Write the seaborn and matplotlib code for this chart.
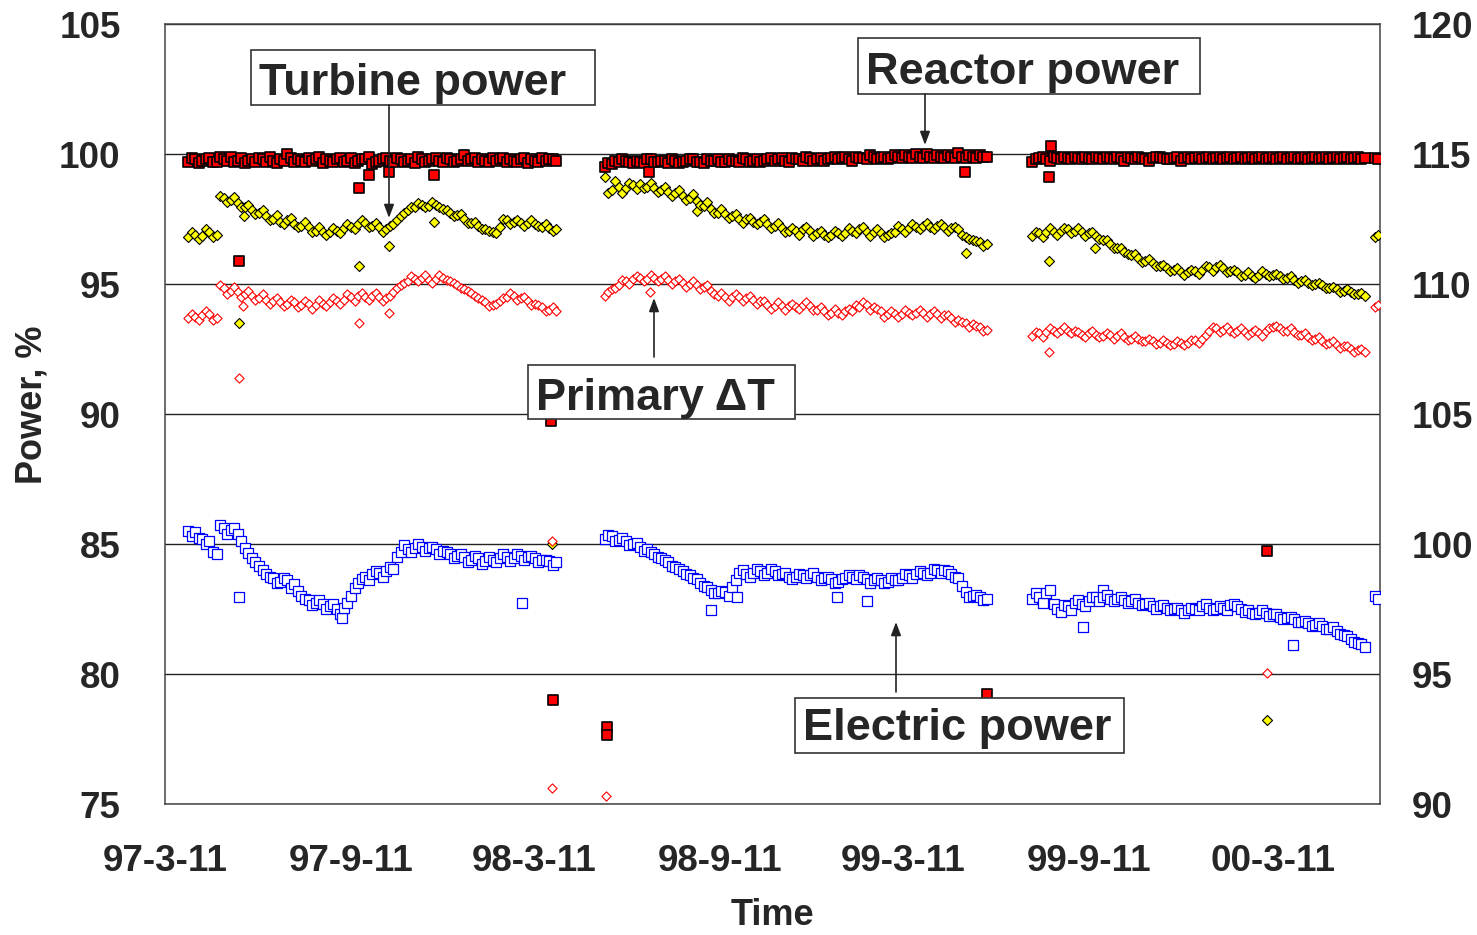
import pandas as pd
import matplotlib.pyplot as plt
from matplotlib.patches import Rectangle
import seaborn as sns

# ---- data ----
# each series is split into operating periods; readings every 7 days,
# plus a second set of readings taken half way between them (the band scatter)
seg_starts = ["1997-04-03", "1998-05-20", "1999-07-17", "2000-06-20"]
seg_steps = [7, 7, 7, 3]

reactor_1 = [99.7, 99.8, 99.75, 99.85, 99.7, 99.8, 99.9, 99.75, 99.65, 99.8,
             99.85, 99.7, 99.75, 99.8, 100.0, 99.7, 99.75, 99.85, 99.8, 99.65,
             99.75, 99.8, 99.7, 99.85, 99.75, 99.8, 99.6, 99.75, 99.85, 99.7,
             99.8, 99.75, 99.65, 99.8, 99.75, 99.85, 99.7, 99.8, 99.75, 99.95,
             99.8, 99.7, 99.75, 99.85, 99.8, 99.7, 99.75, 99.8, 99.65, 99.75,
             99.85, 99.8, 99.75]
reactor_2 = [99.5, 99.6, 99.7, 99.75, 99.65, 99.7, 99.8, 99.7, 99.75, 99.65,
             99.75, 99.7, 99.8, 99.7, 99.65, 99.75, 99.8, 99.7, 99.75, 99.7,
             99.8, 99.75, 99.7, 99.8, 99.75, 99.85, 99.7, 99.8, 99.75, 99.85,
             99.8, 99.75, 99.85, 99.8, 99.9, 99.75, 99.85, 99.8, 99.9, 99.85,
             99.8, 99.95, 99.85, 99.9, 100.0, 99.85, 99.9, 99.95, 99.85, 99.9,
             100.05, 99.85, 99.9, 99.95, 99.9]
reactor_3 = [99.7, 99.85, 99.8, 99.9, 99.8, 99.85, 99.9, 99.8, 99.85, 99.9,
             99.8, 99.85, 99.9, 99.75, 99.85, 99.9, 99.8, 99.85, 99.9, 99.8,
             99.85, 99.75, 99.9, 99.85, 99.8, 99.9, 99.85, 99.8, 99.9, 99.85,
             99.8, 99.9, 99.85, 99.8, 99.9, 99.85, 99.8, 99.9, 99.85, 99.8,
             99.9, 99.85, 99.8, 99.9, 99.85, 99.8, 99.9, 99.85]
reactor_4 = [99.85, 99.8]
reactor_1m = [99.85, 99.65, 99.8, 99.7, 99.9, 99.75, 99.7, 99.85, 99.75, 99.7,
              99.8, 99.9, 99.65, 99.75, 99.85, 99.8, 99.7, 99.75, 99.9, 99.8,
              99.7, 99.85, 99.75, 99.65, 99.8, 99.9, 99.7, 99.8, 99.75, 99.85,
              99.7, 99.8, 99.9, 99.7, 99.8, 99.75, 99.85, 99.7, 99.8, 99.75,
              99.85, 99.8, 99.7, 99.75, 99.85, 99.8, 99.7, 99.85, 99.8, 99.7,
              99.75, 99.8]
reactor_2m = [99.65, 99.75, 99.8, 99.7, 99.75, 99.65, 99.8, 99.7, 99.75, 99.8,
              99.65, 99.75, 99.8, 99.7, 99.8, 99.75, 99.7, 99.8, 99.75, 99.85,
              99.7, 99.8, 99.75, 99.85, 99.8, 99.75, 99.85, 99.8, 99.9, 99.75,
              99.85, 99.8, 99.9, 99.85, 99.8, 99.9, 99.85, 99.95, 99.8, 99.9,
              99.85, 99.9, 99.95, 99.85, 99.9, 100.0, 99.85, 99.9, 99.95, 99.85,
              99.9, 99.95, 99.85, 99.9]
reactor_3m = [99.8, 99.9, 99.75, 99.85, 99.9, 99.8, 99.85, 99.9, 99.8, 99.85,
              99.9, 99.8, 99.85, 99.9, 99.8, 99.85, 99.75, 99.9, 99.85, 99.8,
              99.9, 99.85, 99.8, 99.9, 99.85, 99.8, 99.9, 99.85, 99.8, 99.9,
              99.85, 99.8, 99.9, 99.85, 99.8, 99.9, 99.85, 99.8, 99.9, 99.85,
              99.8, 99.9, 99.85, 99.8, 99.9, 99.85, 99.8]

turbine_1 = [96.8, 96.9, 96.85, 97.0, 96.9, 98.3, 98.25, 98.1, 97.95, 97.85,
             97.75, 97.6, 97.5, 97.4, 97.45, 97.3, 97.25, 97.2, 97.05, 97.0,
             97.0, 97.05, 97.15, 97.2, 97.3, 97.35, 97.25, 97.2, 97.1, 97.3,
             97.6, 97.85, 97.95, 98.05, 98.0, 98.05, 97.9, 97.75, 97.65, 97.5,
             97.35, 97.25, 97.1, 97.0, 97.2, 97.45, 97.4, 97.35, 97.35, 97.3,
             97.2, 97.15, 97.1]
turbine_2 = [99.1, 98.6, 98.75, 98.7, 98.8, 98.85, 98.75, 98.7, 98.6, 98.55,
             98.5, 98.4, 98.3, 98.2, 98.0, 97.9, 97.75, 97.7, 97.6, 97.5,
             97.5, 97.4, 97.4, 97.3, 97.25, 97.15, 97.05, 97.05, 97.1, 97.05,
             96.95, 96.9, 96.9, 96.95, 96.95, 97.05, 97.1, 97.0, 97.0, 96.95,
             96.9, 97.0, 97.1, 97.15, 97.2, 97.25, 97.2, 97.25, 97.2, 97.15,
             97.1, 96.8, 96.7, 96.6, 96.55]
turbine_3 = [96.85, 96.95, 97.0, 97.0, 97.05, 97.1, 97.05, 97.0, 96.95, 96.85,
             96.7, 96.55, 96.4, 96.25, 96.1, 96.0, 95.9, 95.8, 95.7, 95.6,
             95.55, 95.45, 95.45, 95.5, 95.55, 95.65, 95.65, 95.6, 95.5, 95.45,
             95.35, 95.3, 95.35, 95.4, 95.35, 95.3, 95.25, 95.15, 95.1, 95.05,
             95.0, 94.95, 94.85, 94.8, 94.75, 94.7, 94.6, 94.55]
turbine_4 = [96.8, 96.9]
turbine_1m = [97.0, 96.75, 97.1, 96.8, 98.4, 98.15, 98.35, 97.95, 98.05, 97.7,
              97.85, 97.45, 97.65, 97.3, 97.55, 97.2, 97.4, 97.0, 97.2, 96.9,
              97.15, 96.95, 97.3, 97.1, 97.45, 97.2, 97.35, 97.0, 97.25, 97.45,
              97.75, 97.95, 98.1, 97.95, 98.15, 97.95, 97.85, 97.6, 97.7, 97.35,
              97.4, 97.1, 97.05, 96.95, 97.5, 97.3, 97.45, 97.25, 97.45, 97.25,
              97.3, 97.05]
turbine_2m = [98.5, 98.95, 98.5, 98.9, 98.65, 98.7, 98.9, 98.55, 98.75, 98.4,
              98.6, 98.25, 98.45, 98.05, 98.15, 97.75, 97.9, 97.55, 97.7, 97.35,
              97.55, 97.3, 97.5, 97.15, 97.35, 97.0, 97.15, 96.9, 97.2, 96.85,
              97.05, 96.8, 97.05, 96.85, 97.15, 96.95, 97.2, 96.85, 97.1, 96.8,
              96.95, 97.25, 97.0, 97.3, 97.1, 97.35, 97.1, 97.3, 97.05, 97.2,
              96.9, 96.75, 96.65, 96.45]
turbine_3m = [97.0, 96.8, 97.15, 96.9, 97.15, 96.95, 97.15, 96.85, 97.0, 96.75,
              96.7, 96.4, 96.4, 96.15, 96.15, 95.85, 95.95, 95.7, 95.75, 95.5,
              95.6, 95.35, 95.55, 95.4, 95.7, 95.5, 95.75, 95.45, 95.55, 95.3,
              95.45, 95.25, 95.5, 95.3, 95.4, 95.2, 95.3, 95.05, 95.15, 94.95,
              95.05, 94.85, 94.9, 94.7, 94.8, 94.6, 94.65]

delta_t_1 = [93.7, 93.75, 93.8, 93.85, 93.7, 94.85, 94.75, 94.7, 94.6, 94.55,
             94.45, 94.4, 94.35, 94.3, 94.25, 94.3, 94.2, 94.25, 94.2, 94.25,
             94.3, 94.35, 94.4, 94.5, 94.55, 94.5, 94.55, 94.5, 94.45, 94.7,
             94.95, 95.1, 95.2, 95.25, 95.15, 95.2, 95.25, 95.1, 94.95, 94.8,
             94.65, 94.45, 94.3, 94.2, 94.35, 94.5, 94.55, 94.45, 94.35, 94.25,
             94.1, 94.0, 93.95]
delta_t_2 = [94.55, 94.8, 94.95, 95.1, 95.2, 95.25, 95.2, 95.25, 95.2, 95.15,
             95.1, 95.05, 95.0, 94.95, 94.9, 94.75, 94.55, 94.5, 94.5, 94.5,
             94.45, 94.4, 94.35, 94.2, 94.15, 94.15, 94.15, 94.1, 94.2, 94.15,
             94.0, 93.95, 93.9, 93.9, 93.95, 93.95, 94.1, 94.2, 94.1, 93.95,
             93.85, 93.85, 93.85, 93.9, 93.9, 93.9, 93.85, 93.85, 93.8, 93.7,
             93.6, 93.5, 93.45, 93.35, 93.25]
delta_t_3 = [93.0, 93.1, 93.15, 93.2, 93.25, 93.2, 93.2, 93.05, 93.1, 93.05,
             93.0, 93.05, 93.0, 92.95, 92.9, 92.9, 92.8, 92.8, 92.75, 92.75,
             92.7, 92.75, 92.75, 92.85, 92.9, 93.2, 93.3, 93.25, 93.2, 93.2,
             93.15, 93.15, 93.1, 93.2, 93.35, 93.3, 93.2, 93.15, 93.05, 92.95,
             92.9, 92.8, 92.75, 92.65, 92.6, 92.5, 92.45, 92.4]
delta_t_4 = [94.1, 94.2]
delta_t_1m = [93.85, 93.6, 93.95, 93.6, 94.95, 94.6, 94.9, 94.5, 94.75, 94.4,
              94.6, 94.25, 94.45, 94.15, 94.4, 94.1, 94.35, 94.05, 94.4, 94.15,
              94.45, 94.25, 94.6, 94.35, 94.65, 94.4, 94.65, 94.35, 94.55, 94.85,
              95.05, 95.3, 95.1, 95.35, 95.05, 95.35, 95.15, 95.05, 94.85, 94.75,
              94.55, 94.4, 94.15, 94.25, 94.45, 94.65, 94.4, 94.5, 94.2, 94.2,
              93.95, 94.1]
delta_t_2m = [94.7, 94.85, 95.15, 95.0, 95.3, 95.1, 95.35, 95.1, 95.3, 95.0,
              95.2, 94.9, 95.1, 94.8, 94.95, 94.6, 94.65, 94.35, 94.6, 94.35,
              94.55, 94.25, 94.35, 94.05, 94.3, 94.0, 94.25, 94.05, 94.3, 94.0,
              94.1, 93.8, 94.05, 93.8, 94.05, 94.2, 94.3, 94.0, 94.05, 93.75,
              93.95, 93.75, 94.0, 93.8, 94.0, 93.75, 93.95, 93.7, 93.8, 93.55,
              93.55, 93.35, 93.4, 93.2]
delta_t_3m = [93.15, 92.95, 93.3, 93.1, 93.35, 93.1, 93.15, 92.95, 93.2, 92.95,
              93.1, 92.9, 93.1, 92.85, 93.0, 92.8, 92.9, 92.7, 92.85, 92.65,
              92.8, 92.65, 92.85, 92.75, 93.05, 93.35, 93.15, 93.35, 93.1, 93.3,
              93.05, 93.25, 93.0, 93.3, 93.4, 93.2, 93.3, 93.05, 93.1, 92.85,
              92.95, 92.7, 92.8, 92.55, 92.6, 92.4, 92.5]

electric_1 = [85.5, 85.45, 85.2, 85.1, 84.6, 85.6, 85.55, 85.4, 84.85, 84.45,
              84.15, 83.85, 83.7, 83.55, 83.6, 83.45, 83.0, 82.85, 82.75, 82.7,
              82.6, 82.5, 82.55, 83.0, 83.5, 83.75, 83.85, 83.9, 83.95, 84.05,
              84.7, 84.8, 84.85, 84.9, 84.85, 84.8, 84.75, 84.6, 84.55, 84.5,
              84.4, 84.45, 84.35, 84.4, 84.45, 84.5, 84.45, 84.55, 84.5, 84.45,
              84.4, 84.35, 84.3]
electric_2 = [85.2, 85.3, 85.15, 85.1, 85.0, 84.9, 84.8, 84.6, 84.45, 84.3,
              84.1, 83.95, 83.8, 83.65, 83.4, 83.25, 83.1, 83.15, 83.35, 83.9,
              83.85, 83.9, 83.95, 83.9, 83.95, 83.85, 83.75, 83.75, 83.8, 83.8,
              83.75, 83.7, 83.65, 83.55, 83.7, 83.75, 83.8, 83.65, 83.6, 83.6,
              83.55, 83.6, 83.7, 83.8, 83.85, 83.9, 83.9, 84.0, 84.0, 83.85,
              83.7, 83.15, 83.0, 82.95, 82.9]
electric_3 = [82.9, 82.95, 83.1, 82.7, 82.4, 82.6, 82.75, 82.7, 82.8, 82.95,
              82.95, 82.9, 82.9, 82.85, 82.8, 82.75, 82.7, 82.6, 82.6, 82.55,
              82.5, 82.45, 82.45, 82.5, 82.6, 82.55, 82.5, 82.55, 82.65, 82.6,
              82.4, 82.35, 82.35, 82.35, 82.3, 82.2, 82.15, 82.1, 82.0, 81.95,
              81.9, 81.85, 81.75, 81.65, 81.5, 81.35, 81.2, 81.05]
electric_4 = [83.0, 82.9]
electric_1m = [85.3, 85.25, 85.0, 84.7, 85.75, 85.4, 85.6, 85.1, 84.65, 84.3,
               84.0, 83.75, 83.5, 83.7, 83.3, 83.2, 82.9, 82.65, 82.85, 82.5,
               82.7, 82.3, 82.75, 83.3, 83.65, 83.6, 83.95, 83.75, 84.1, 84.5,
               84.95, 84.7, 85.0, 84.75, 84.9, 84.6, 84.7, 84.45, 84.6, 84.3,
               84.55, 84.25, 84.5, 84.3, 84.6, 84.35, 84.6, 84.4, 84.55, 84.3,
               84.4, 84.2]
electric_2m = [85.35, 85.1, 85.25, 84.95, 85.05, 84.75, 84.7, 84.5, 84.4, 84.15,
               84.05, 83.85, 83.7, 83.5, 83.35, 83.1, 83.2, 83.0, 83.6, 84.0,
               83.75, 84.05, 83.8, 84.05, 83.8, 83.9, 83.65, 83.85, 83.7, 83.9,
               83.6, 83.75, 83.5, 83.65, 83.8, 83.65, 83.75, 83.5, 83.7, 83.5,
               83.7, 83.6, 83.85, 83.7, 83.95, 83.8, 84.05, 83.9, 83.95, 83.75,
               83.4, 82.95, 83.05, 82.85]
electric_3m = [83.1, 82.75, 83.25, 82.5, 82.65, 82.45, 82.85, 82.6, 82.95, 82.8,
               83.05, 82.8, 82.95, 82.75, 82.9, 82.65, 82.75, 82.5, 82.65, 82.45,
               82.55, 82.35, 82.55, 82.45, 82.7, 82.45, 82.6, 82.45, 82.7, 82.5,
               82.45, 82.3, 82.45, 82.25, 82.3, 82.1, 82.2, 82.0, 82.05, 81.85,
               81.95, 81.75, 81.8, 81.55, 81.45, 81.25, 81.15]

# isolated readings (trips, start-ups)
reactor_out_dates = ["1997-05-23", "1997-09-19", "1997-09-29", "1997-10-19", "1997-12-02",
                     "1998-03-28", "1998-03-30", "1998-05-22", "1998-05-22", "1998-07-03",
                     "1999-05-11", "1999-06-02", "1999-08-03", "1999-08-05", "2000-03-05"]
reactor_out = [95.9, 98.7, 99.2, 99.3, 99.2, 89.75, 79.0, 77.95, 77.65, 99.3,
               99.3, 79.25, 99.1, 100.3, 84.75]
turbine_out_dates = ["1997-05-23", "1997-05-28", "1997-09-19", "1997-10-19", "1997-12-02",
                     "1998-03-29", "1998-08-19", "1999-05-12", "1999-08-03", "1999-09-17",
                     "2000-03-05"]
turbine_out = [93.5, 97.6, 95.7, 96.45, 97.4, 85.0, 97.8, 96.2, 95.9, 96.4, 78.25]
delta_t_out_dates = ["1997-05-23", "1997-05-27", "1997-09-19", "1997-10-19", "1998-03-29",
                     "1998-03-29", "1998-05-21", "1998-07-04", "1999-08-03", "2000-03-05"]
delta_t_out = [91.4, 94.15, 93.5, 93.9, 75.6, 85.1, 75.3, 94.7, 92.4, 80.05]
electric_out_dates = ["1997-05-23", "1997-09-02", "1998-02-27", "1998-09-02", "1998-09-28",
                      "1999-01-05", "1999-02-03", "1999-09-05", "1999-09-25", "2000-03-31"]
electric_out = [82.95, 82.15, 82.75, 82.45, 82.95, 82.95, 82.8, 81.8, 83.25, 81.1]

tick_dates = ["1997-03-11", "1997-09-11", "1998-03-11", "1998-09-11",
              "1999-03-11", "1999-09-11", "2000-03-11"]
tick_labels = ["97-3-11", "97-9-11", "98-3-11", "98-9-11", "99-3-11", "99-9-11", "00-3-11"]
left_ticks = [75, 80, 85, 90, 95, 100, 105]
right_ticks = [90, 95, 100, 105, 110, 115, 120]


def build(segments, mids, out_dates, out_vals):
    parts = []
    for start, step, vals in zip(seg_starts, seg_steps, segments):
        d = pd.date_range(start, periods=len(vals), freq=f"{step}D")
        parts.append(pd.DataFrame({"date": d, "value": vals}))
    for start, vals in zip(seg_starts, mids):
        first = pd.Timestamp(start) + pd.Timedelta(hours=84)
        d = pd.date_range(first, periods=len(vals), freq="7D")
        parts.append(pd.DataFrame({"date": d, "value": vals}))
    parts.append(pd.DataFrame({"date": pd.to_datetime(out_dates), "value": out_vals}))
    return pd.concat(parts, ignore_index=True).sort_values("date")


reactor = build([reactor_1, reactor_2, reactor_3, reactor_4],
                [reactor_1m, reactor_2m, reactor_3m], reactor_out_dates, reactor_out)
turbine = build([turbine_1, turbine_2, turbine_3, turbine_4],
                [turbine_1m, turbine_2m, turbine_3m], turbine_out_dates, turbine_out)
delta_t = build([delta_t_1, delta_t_2, delta_t_3, delta_t_4],
                [delta_t_1m, delta_t_2m, delta_t_3m], delta_t_out_dates, delta_t_out)
electric = build([electric_1, electric_2, electric_3, electric_4],
                 [electric_1m, electric_2m, electric_3m], electric_out_dates, electric_out)

# ---- plot ----
sns.set_style("white")
plt.rcParams["font.family"] = ["Liberation Sans", "DejaVu Sans"]
plt.rcParams["font.weight"] = "bold"

fig = plt.figure(figsize=(14.77, 9.35), dpi=100)
ax = fig.add_axes([165 / 1477, 1 - 804 / 935, 1215 / 1477, 780 / 935])

sns.scatterplot(data=reactor, x="date", y="value", ax=ax, marker="s", s=50,
                color="#ff0000", edgecolor="black", linewidth=1.2, zorder=3)
sns.scatterplot(data=turbine, x="date", y="value", ax=ax, marker="D", s=26,
                color="#ffff00", edgecolor="black", linewidth=0.8, zorder=3)
sns.scatterplot(data=delta_t, x="date", y="value", ax=ax, marker="D", s=22,
                color="white", edgecolor="#ff0000", linewidth=0.8, zorder=3)
sns.scatterplot(data=electric, x="date", y="value", ax=ax, marker="s", s=46,
                color="white", edgecolor="#0000ff", linewidth=0.9, zorder=3)

ax.set_xlim(pd.Timestamp("1997-03-11"), pd.Timestamp("2000-06-25"))
ax.set_ylim(75, 105)
ax.set_yticks(left_ticks)
ax.set_xticks(pd.to_datetime(tick_dates))
ax.set_xticklabels(tick_labels)
ax.tick_params(axis="x", direction="in", length=7, width=1, color="#333333",
               pad=29, labelsize=26.5)
ax.tick_params(axis="y", length=0, pad=32, labelsize=26.5)
ax.grid(axis="y", color="#222222", linewidth=1)
ax.set_axisbelow(True)
for sp in ax.spines.values():
    sp.set_color("#444444")
    sp.set_linewidth(1.1)

ax.set_xlabel("Time", fontsize=26, fontweight="bold")
ax.set_ylabel("Power, %", fontsize=26, fontweight="bold")
ax.xaxis.set_label_coords(0.5, -0.121)
ax.yaxis.set_label_coords(-0.095, 0.5115)

ax2 = ax.twinx()
ax2.set_ylim(90, 120)
ax2.set_yticks(right_ticks)
ax2.tick_params(axis="y", length=0, pad=23, labelsize=26.5)
for sp in ax2.spines.values():
    sp.set_visible(False)


# annotation boxes (axes-pixel layout)
def px(x, y):
    return (x - 165) / 1215, (804 - y) / 780


def label_box(text, x0, y0, x1, y1, tx, ty):
    (fx0, fy1), (fx1, fy0) = px(x0, y0), px(x1, y1)
    ax2.add_patch(Rectangle((fx0, fy0), fx1 - fx0, fy1 - fy0, transform=ax.transAxes,
                            facecolor="white", edgecolor="#333333", linewidth=1.2,
                            zorder=5, clip_on=False))
    ax2.text(*px(tx, ty), text, transform=ax.transAxes, ha="left", va="baseline",
             fontsize=32.5, fontweight="bold", zorder=6)


def arrow(x, y_from, y_to):
    ax2.annotate("", xy=px(x, y_to), xytext=px(x, y_from),
                 xycoords=ax.transAxes, textcoords=ax.transAxes,
                 arrowprops=dict(arrowstyle="-|>,head_length=0.8,head_width=0.3",
                                 color="#222222", lw=1.2, shrinkA=0, shrinkB=0),
                 zorder=6)


label_box("Turbine power", 251, 50, 595, 105, 259, 95)
arrow(389, 105, 218)
label_box("Reactor power", 858, 38, 1200, 94, 866, 84)
arrow(925, 94, 145)
label_box("Primary \u0394T", 528, 365, 795, 419, 536, 410)
arrow(654, 357, 298)
label_box("Electric power", 795, 698, 1124, 753, 803, 740)
arrow(896, 692, 622)

fig.savefig("out.png", dpi=100)
plt.close(fig)
